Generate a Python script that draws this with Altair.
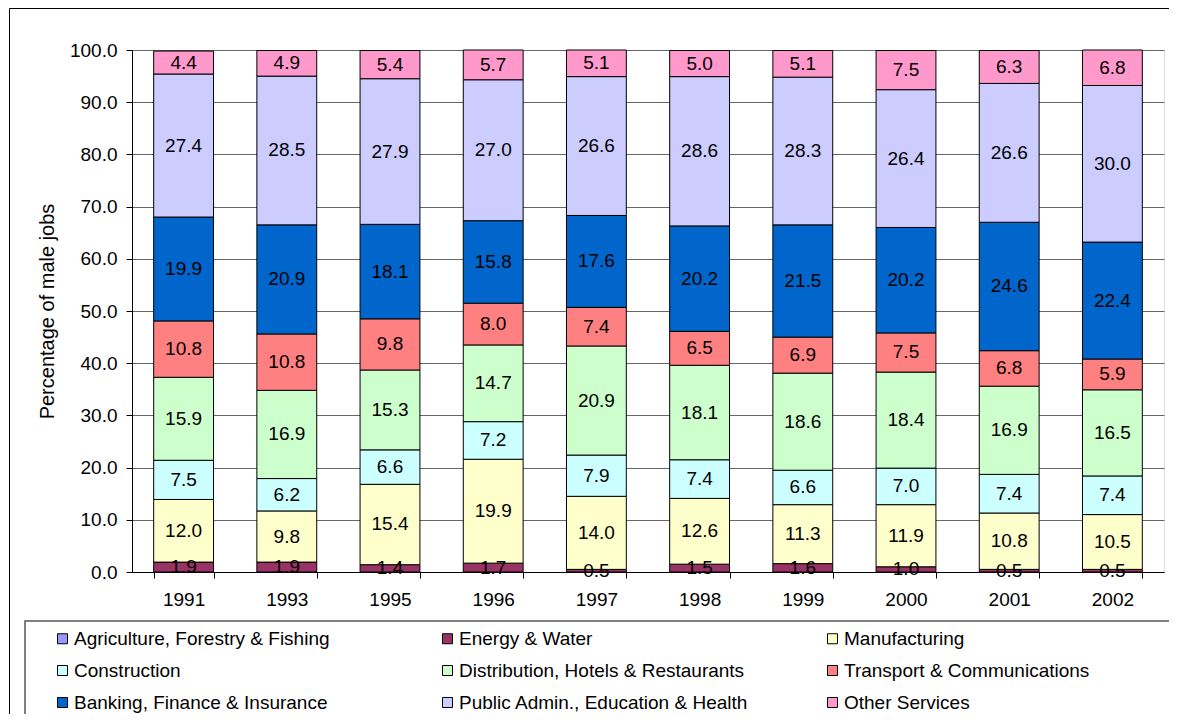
import altair as alt
import pandas as pd

years = ["1991", "1993", "1995", "1996", "1997", "1998", "1999", "2000", "2001", "2002"]
categories = [
    "Agriculture, Forestry & Fishing",
    "Energy & Water",
    "Manufacturing",
    "Construction",
    "Distribution, Hotels & Restaurants",
    "Transport & Communications",
    "Banking, Finance & Insurance",
    "Public Admin., Education & Health",
    "Other Services",
]
colors = ["#9999FF", "#993366", "#FFFFCC", "#CCFFFF", "#CCFFCC",
          "#FF8080", "#0066CC", "#CCCCFF", "#FF99CC"]

agriculture = [0, 0, 0, 0, 0, 0, 0, 0, 0, 0]
energy = [1.9, 1.9, 1.4, 1.7, 0.5, 1.5, 1.6, 1.0, 0.5, 0.5]
manufacturing = [12.0, 9.8, 15.4, 19.9, 14.0, 12.6, 11.3, 11.9, 10.8, 10.5]
construction = [7.5, 6.2, 6.6, 7.2, 7.9, 7.4, 6.6, 7.0, 7.4, 7.4]
distribution = [15.9, 16.9, 15.3, 14.7, 20.9, 18.1, 18.6, 18.4, 16.9, 16.5]
transport = [10.8, 10.8, 9.8, 8.0, 7.4, 6.5, 6.9, 7.5, 6.8, 5.9]
banking = [19.9, 20.9, 18.1, 15.8, 17.6, 20.2, 21.5, 20.2, 24.6, 22.4]
public_admin = [27.4, 28.5, 27.9, 27.0, 26.6, 28.6, 28.3, 26.4, 26.6, 30.0]
other = [4.4, 4.9, 5.4, 5.7, 5.1, 5.0, 5.1, 7.5, 6.3, 6.8]

series = [agriculture, energy, manufacturing, construction, distribution,
          transport, banking, public_admin, other]

rows = []
for ci, (cat, vals) in enumerate(zip(categories, series)):
    for y, v in zip(years, vals):
        rows.append({"year": y, "category": cat, "order": ci, "value": v})
df = pd.DataFrame(rows)

FONT = "Liberation Sans"

base = (
    alt.Chart(df)
    .transform_filter("datum.value > 0")
    .transform_window(
        cum="sum(value)", frame=[None, 0], groupby=["year"],
        sort=[alt.SortField("order")]
    )
    .transform_calculate(y0="datum.cum - datum.value",
                         mid="datum.cum - datum.value / 2")
)

x_enc = alt.X(
    "year:N",
    sort=years,
    scale=alt.Scale(paddingInner=0.42, paddingOuter=0.21),
    axis=alt.Axis(title=None, tickBand="extent", labelAngle=0, labelFontSize=19,
                  labelPadding=12, tickSize=6, domainColor="black",
                  tickColor="black", grid=False),
)

bars = base.mark_bar(stroke="black", strokeWidth=1).encode(
    x=x_enc,
    y=alt.Y(
        "y0:Q",
        scale=alt.Scale(domain=[0, 100], nice=False),
        axis=alt.Axis(title="Percentage of male jobs", values=list(range(0, 101, 10)),
                      format=".1f", labelFontSize=19, labelPadding=9, tickSize=6,
                      titleFontSize=20, titleFontWeight="normal", titlePadding=12,
                      domainColor="black", tickColor="black",
                      gridColor="#666666", gridWidth=1),
    ),
    y2="cum:Q",
    color=alt.Color(
        "category:N",
        scale=alt.Scale(domain=categories, range=colors),
        legend=alt.Legend(
            title=None, orient="none", legendX=-79, legendY=579, columns=3,
            direction="horizontal",
            columnPadding=74, rowPadding=12, gridAlign="all",
            symbolType="square", symbolSize=100, symbolStrokeColor="black",
            symbolStrokeWidth=1, symbolOpacity=1, labelFontSize=19,
            labelFont=FONT, labelOffset=2, labelLimit=400, padding=0,
        ),
    ),
)

labels = base.mark_text(font=FONT, fontSize=19, color="black", baseline="middle").encode(
    x=alt.X("year:N", sort=years),
    y=alt.Y("mid:Q"),
    text=alt.Text("value:Q", format=".1f"),
)

frame_df = pd.DataFrame({"a": [0]})
outer_frame = alt.Chart(frame_df).mark_rect(
    fillOpacity=0, stroke="black", strokeWidth=1
).encode(x=alt.value(-122.5), x2=alt.value(1100), y=alt.value(-41.5), y2=alt.value(800))

legend_box = alt.Chart(frame_df).mark_rect(
    fillOpacity=0, stroke="#555555", strokeWidth=1.5
).encode(x=alt.value(-107), x2=alt.value(1100), y=alt.value(571), y2=alt.value(800))

chart = (
    alt.layer(outer_frame, legend_box, bars, labels)
    .properties(
        width=1032, height=522,
        autosize=alt.AutoSizeParams(type="none"),
        padding={"left": 124, "top": 42, "right": 5, "bottom": 142},
    )
    .configure_view(stroke=None)
    .configure_axis(labelFont=FONT, titleFont=FONT, labelColor="black", titleColor="black")
    .configure(background="white")
)

chart.save("out.html", embed_options={"renderer": "svg", "actions": False})
